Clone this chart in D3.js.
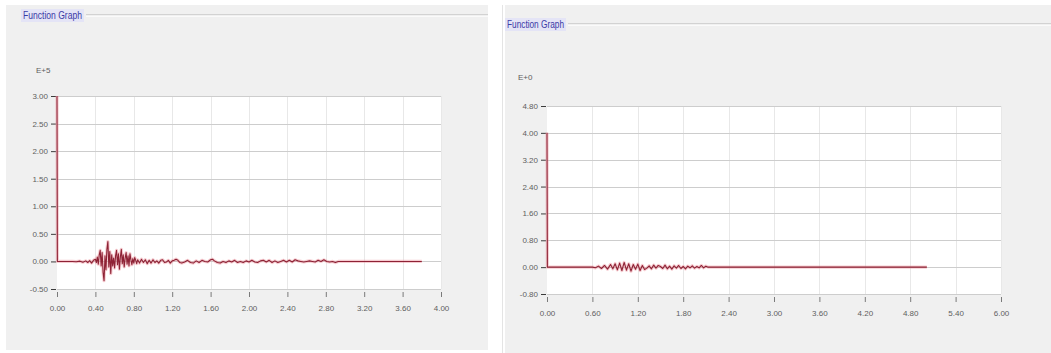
<!DOCTYPE html>
<html>
<head>
<meta charset="utf-8">
<script src="https://cdn.jsdelivr.net/npm/d3@7"></script>
<style>
  html, body { margin: 0; padding: 0; background: #ffffff; }
  svg { display: block; }
  .tick text { font-family: "Liberation Sans", Arial, sans-serif; font-size: 8px; fill: #5e5e5e; }
</style>
</head>
<body>
<svg id="chart" width="1051" height="353"></svg>
<script>
// Left graph: response in units of E+5
const leftTime = [0, 0.004, 0.04, 0.08, 0.12, 0.16, 0.20, 0.24, 0.27, 0.30, 0.32, 0.34, 0.36, 0.38,
  0.40, 0.41, 0.42, 0.43, 0.44, 0.45, 0.46, 0.47, 0.48, 0.49, 0.50, 0.51, 0.52, 0.53, 0.54, 0.55,
  0.56, 0.57, 0.58, 0.59, 0.60, 0.61, 0.62, 0.63, 0.64, 0.65, 0.66, 0.67, 0.68, 0.69, 0.70, 0.71,
  0.72, 0.73, 0.74, 0.75, 0.76, 0.77, 0.78, 0.79, 0.80, 0.81, 0.82, 0.83, 0.84, 0.86, 0.88, 0.90,
  0.92, 0.94, 0.96, 0.98, 1.00, 1.02, 1.04, 1.06, 1.08, 1.10, 1.12, 1.14, 1.16, 1.18, 1.20, 1.22,
  1.24, 1.26, 1.28, 1.30, 1.33, 1.36, 1.39, 1.42, 1.45, 1.48, 1.51, 1.54, 1.57, 1.60, 1.62, 1.64,
  1.67, 1.70, 1.73, 1.76, 1.79, 1.82, 1.85, 1.88, 1.91, 1.94, 1.97, 2.00, 2.03, 2.06, 2.09, 2.12,
  2.15, 2.18, 2.21, 2.24, 2.27, 2.30, 2.33, 2.36, 2.39, 2.42, 2.45, 2.48, 2.51, 2.54, 2.57, 2.60,
  2.63, 2.66, 2.69, 2.72, 2.75, 2.78, 2.81, 2.84, 2.87, 2.90, 2.93, 2.96, 3.20, 3.50, 3.80];
const leftValue = [3.00, 0.00, 0.00, 0.00, 0.00, 0.00, -0.005, 0.005, -0.015, 0.01, -0.02, 0.015, -0.03, 0.02,
  0.04, -0.02, 0.08, -0.05, 0.12, 0.20, -0.08, 0.16, -0.20, -0.35, 0.10, -0.15, 0.22, 0.36, -0.10, 0.18,
  -0.22, 0.12, -0.08, 0.06, -0.12, 0.10, 0.20, -0.06, 0.14, -0.14, 0.08, 0.22, -0.04, 0.12, -0.10, 0.06,
  0.16, -0.05, 0.10, -0.08, 0.14, 0.03, -0.06, 0.05, -0.03, 0.07, 0.02, -0.04, 0.03, -0.03, 0.04, -0.02,
  0.03, -0.04, 0.02, -0.03, 0.03, -0.02, 0.01, -0.03, 0.02, 0.03, -0.02, -0.01, 0.02, -0.03, 0.01, 0.02,
  0.04, 0.02, -0.02, -0.03, -0.01, 0.02, -0.02, -0.03, 0.01, -0.02, 0.02, 0.00, -0.01, 0.03, 0.04, 0.01,
  -0.02, -0.03, 0.00, -0.02, 0.01, -0.01, 0.02, -0.02, 0.00, -0.02, 0.01, -0.01, 0.02, -0.01, -0.02, 0.01,
  0.02, -0.01, 0.02, -0.02, 0.01, -0.02, 0.00, 0.02, -0.01, 0.02, -0.01, 0.03, 0.01, 0.00, -0.01, 0.00,
  0.01, 0.00, -0.01, 0.02, 0.00, 0.03, 0.00, -0.01, 0.00, -0.02, 0.00, 0.00, 0.00, 0.00, 0.00];
const leftXTicks = [0, 0.4, 0.8, 1.2, 1.6, 2.0, 2.4, 2.8, 3.2, 3.6, 4.0];
const leftYTicks = [-0.5, 0, 0.5, 1.0, 1.5, 2.0, 2.5, 3.0];

// Right graph: response in units of E+0
const rightTime = [0, 0.005, 0.30, 0.60, 0.64, 0.68, 0.72, 0.76, 0.80, 0.84, 0.87, 0.90, 0.93, 0.96, 0.99,
  1.02, 1.05, 1.08, 1.11, 1.14, 1.17, 1.20, 1.23, 1.26, 1.29, 1.32, 1.35, 1.38, 1.41, 1.44, 1.47, 1.50,
  1.53, 1.56, 1.59, 1.62, 1.65, 1.68, 1.71, 1.74, 1.77, 1.80, 1.83, 1.86, 1.89, 1.92, 1.95, 1.98, 2.01,
  2.04, 2.07, 2.10, 2.13, 2.20, 3.00, 4.00, 5.02];
const rightValue = [4.00, 0.00, 0.00, 0.00, -0.02, 0.03, -0.04, 0.05, -0.06, 0.08, -0.05, 0.10, -0.08, 0.12, -0.10,
  0.14, -0.09, 0.10, -0.12, 0.08, -0.06, 0.09, -0.10, 0.05, -0.07, -0.03, 0.04, -0.05, 0.06, -0.03, 0.05, 0.02,
  -0.04, 0.06, -0.05, 0.03, -0.06, 0.04, -0.03, 0.05, -0.04, 0.02, -0.05, 0.03, -0.02, 0.04, -0.03, 0.02, -0.02,
  0.05, -0.02, 0.03, 0.00, 0.00, 0.00, 0.00, 0.00];
const rightXTicks = [0, 0.6, 1.2, 1.8, 2.4, 3.0, 3.6, 4.2, 4.8, 5.4, 6.0];
const rightYTicks = [-0.8, 0, 0.8, 1.6, 2.4, 3.2, 4.0, 4.8];

const titleText = "Function Graph";
const svg = d3.select("#chart");
const fmt = d => d.toFixed(2);

function drawPanel(p) {
  const g = svg.append("g");

  // window background
  g.append("rect").attr("x", p.box[0]).attr("y", p.box[1])
    .attr("width", p.box[2]).attr("height", p.box[3]).attr("fill", "#f0f0f0");

  // header rule next to the title
  g.append("line").attr("x1", p.ruleX).attr("x2", p.box[0] + p.box[2])
    .attr("y1", p.titleY - 4.5).attr("y2", p.titleY - 4.5).attr("stroke", "#d2d2d2");
  g.append("line").attr("x1", p.ruleX).attr("x2", p.box[0] + p.box[2])
    .attr("y1", p.titleY - 2.5).attr("y2", p.titleY - 2.5).attr("stroke", "#fafafa");

  // title with its soft highlight
  g.append("rect").attr("x", p.titleX - 2).attr("y", p.titleY - 10)
    .attr("width", p.titleW + 4).attr("height", 13).attr("fill", "#e4e4f6");
  g.append("text").attr("x", p.titleX).attr("y", p.titleY)
    .attr("font-family", "'Liberation Sans', Arial, sans-serif")
    .attr("font-size", 10).attr("fill", "#3b3ba6")
    .attr("textLength", p.titleW).attr("lengthAdjust", "spacingAndGlyphs")
    .text(titleText);

  // exponent label
  g.append("text").attr("x", p.expX).attr("y", p.expY)
    .attr("font-family", "'Liberation Sans', Arial, sans-serif")
    .attr("font-size", 8).attr("fill", "#5e5e5e").text(p.exp);

  const x = d3.scaleLinear().domain(p.xDomain).range(p.xRange);
  const y = d3.scaleLinear().domain(p.yDomain).range(p.yRange);

  // plot area
  g.append("rect").attr("x", p.xRange[0]).attr("y", p.yRange[1])
    .attr("width", p.xRange[1] - p.xRange[0]).attr("height", p.yRange[0] - p.yRange[1])
    .attr("fill", "#ffffff");

  // vertical grid
  g.append("g").selectAll("line").data(p.xTicks.slice(1)).join("line")
    .attr("x1", d => Math.round(x(d)) + 0.5).attr("x2", d => Math.round(x(d)) + 0.5)
    .attr("y1", p.yRange[1]).attr("y2", p.yRange[0])
    .attr("stroke", "#e8e8e8");
  // horizontal grid
  g.append("g").selectAll("line").data(p.yTicks).join("line")
    .attr("x1", p.xRange[0]).attr("x2", p.xRange[1])
    .attr("y1", d => Math.round(y(d)) + 0.5).attr("y2", d => Math.round(y(d)) + 0.5)
    .attr("stroke", "#cdcdcd");

  // axes (ticks and labels only)
  const yAxis = g.append("g").attr("transform", `translate(${p.xRange[0] - 1},0)`)
    .call(d3.axisLeft(y).tickValues(p.yTicks).tickFormat(fmt).tickSize(5).tickPadding(3));
  yAxis.select(".domain").remove();
  yAxis.selectAll(".tick line").attr("stroke", "#3c3c3c");

  const xAxis = g.append("g").attr("transform", `translate(0,${p.yRange[0] + p.xAxisGap})`)
    .call(d3.axisBottom(x).tickValues(p.xTicks).tickFormat(fmt).tickSize(5).tickPadding(8));
  xAxis.select(".domain").remove();
  xAxis.selectAll(".tick line").attr("stroke", "#7a7a7a");

  // signal trace
  const pts = p.t.map((t, i) => [t, p.v[i]]);
  const line = d3.line().x(d => x(d[0])).y(d => y(d[1]));
  g.append("path").datum(pts).attr("d", line)
    .attr("fill", "none").attr("stroke", "#ec8f98").attr("stroke-opacity", 0.45)
    .attr("stroke-width", 3.2).attr("stroke-linejoin", "round");
  g.append("path").datum(pts).attr("d", line)
    .attr("fill", "none").attr("stroke", "#8e2235")
    .attr("stroke-width", 1.1).attr("stroke-linejoin", "round");
}

drawPanel({
  box: [6, 5, 482, 345], titleX: 23, titleY: 19, titleW: 59, ruleX: 86,
  exp: "E+5", expX: 36, expY: 73,
  xDomain: [0, 4], xRange: [57, 441], yDomain: [-0.5, 3.0], yRange: [289, 96],
  xTicks: leftXTicks, yTicks: leftYTicks, xAxisGap: 3,
  t: leftTime, v: leftValue
});

// thin separator ahead of the second window
svg.append("line").attr("x1", 502.5).attr("x2", 502.5).attr("y1", 5).attr("y2", 353)
  .attr("stroke", "#e4e4e4");

drawPanel({
  box: [505, 5, 546, 348], titleX: 507, titleY: 28, titleW: 57, ruleX: 568,
  exp: "E+0", expX: 518, expY: 80,
  xDomain: [0, 6], xRange: [547, 1001], yDomain: [-0.8, 4.8], yRange: [294, 106],
  xTicks: rightXTicks, yTicks: rightYTicks, xAxisGap: 3,
  t: rightTime, v: rightValue
});
</script>
</body>
</html>
